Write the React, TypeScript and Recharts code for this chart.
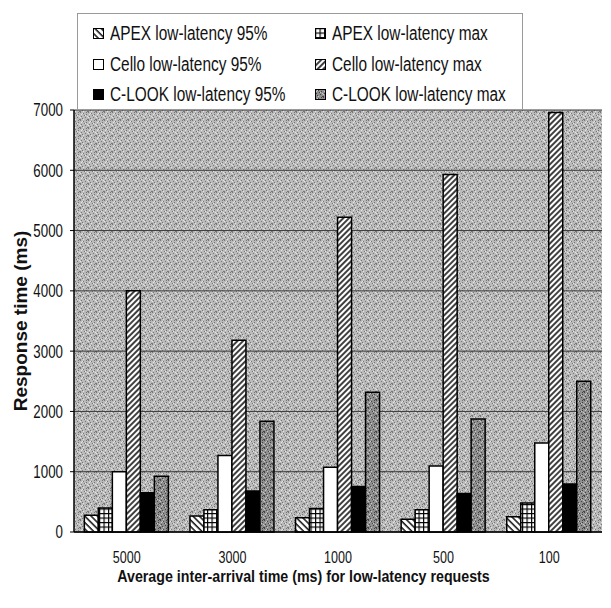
import { BarChart, Bar, XAxis, YAxis, CartesianGrid, Legend } from "recharts"

const categories = ["5000", "3000", "1000", "500", "100"]
const apex95 = [277, 265, 238, 211, 255]
const apexMax = [400, 371, 388, 371, 481]
const cello95 = [1000, 1267, 1073, 1095, 1476]
const celloMax = [4000, 3179, 5219, 5932, 6960]
const clook95 = [653, 680, 753, 637, 796]
const clookMax = [923, 1836, 2317, 1874, 2499]
const yTicks = [0, 1000, 2000, 3000, 4000, 5000, 6000, 7000]

const data = categories.map((c, i) => ({
  name: c,
  apex95: apex95[i],
  apexMax: apexMax[i],
  cello95: cello95[i],
  celloMax: celloMax[i],
  clook95: clook95[i],
  clookMax: clookMax[i],
}))

const FONT = "'Liberation Sans', Arial, sans-serif"
// the scan squeezes the type horizontally
const SQUEEZE = 0.74

// scanned paper look: fixed little dot tiles
const speckles = [
  [0, 0], [3, 1], [6, 2], [1, 4], [5, 5], [2, 6], [7, 7], [4, 3], [0, 7], [6, 0],
]
const lights = [
  [2, 1], [5, 3], [0, 5], [7, 4], [3, 7], [1, 2],
]

function Patterns() {
  return (
    <svg width={0} height={0} style={{ position: "absolute" }}>
      <defs>
        <pattern id="bgSpeckle" width={8} height={8} patternUnits="userSpaceOnUse">
          <rect width={8} height={8} fill="#bababa" />
          {speckles.map(([x, y], i) => (
            <rect key={i} x={x} y={y} width={1} height={1} fill="#777" />
          ))}
          {lights.map(([x, y], i) => (
            <rect key={"l" + i} x={x} y={y} width={1} height={1} fill="#e4e4e4" />
          ))}
        </pattern>
        <pattern id="darkSpeckle" width={8} height={8} patternUnits="userSpaceOnUse">
          <rect width={8} height={8} fill="#8e8e8e" />
          {speckles.map(([x, y], i) => (
            <rect key={i} x={x} y={y} width={1} height={1} fill="#444" />
          ))}
          {lights.map(([x, y], i) => (
            <rect key={"l" + i} x={x} y={y} width={1} height={1} fill="#c8c8c8" />
          ))}
        </pattern>
        <pattern id="backHatch" width={4.5} height={4.5} patternUnits="userSpaceOnUse" patternTransform="rotate(-45)">
          <rect width={4.5} height={4.5} fill="#fff" />
          <line x1={1} y1={0} x2={1} y2={4.5} stroke="#000" strokeWidth={1.4} />
        </pattern>
        <pattern id="fwdHatch" width={4} height={4} patternUnits="userSpaceOnUse" patternTransform="rotate(45)">
          <rect width={4} height={4} fill="#fff" />
          <line x1={1} y1={0} x2={1} y2={4} stroke="#000" strokeWidth={1.5} />
        </pattern>
        <pattern id="gridFill" width={4.5} height={4.5} patternUnits="userSpaceOnUse">
          <rect width={4.5} height={4.5} fill="#fff" />
          <line x1={0.5} y1={0} x2={0.5} y2={4.5} stroke="#000" strokeWidth={1.3} />
          <line x1={0} y1={0.5} x2={4.5} y2={0.5} stroke="#000" strokeWidth={1.3} />
        </pattern>
      </defs>
    </svg>
  )
}

const series = [
  { key: "apex95", name: "APEX low-latency 95%", fill: "url(#backHatch)" },
  { key: "apexMax", name: "APEX low-latency max", fill: "url(#gridFill)" },
  { key: "cello95", name: "Cello low-latency 95%", fill: "#fff" },
  { key: "celloMax", name: "Cello low-latency max", fill: "url(#fwdHatch)" },
  { key: "clook95", name: "C-LOOK low-latency 95%", fill: "#000" },
  { key: "clookMax", name: "C-LOOK low-latency max", fill: "url(#darkSpeckle)" },
]

const legendCols = [15, 237]
const legendRows = [19, 50, 80]

function LegendBox() {
  return (
    <div
      style={{
        position: "relative",
        boxSizing: "border-box",
        width: "100%",
        height: "100%",
        background: "#fff",
        border: "1px solid #9a9a9a",
        fontFamily: FONT,
        fontSize: 20,
        color: "#111",
      }}
    >
      {series.map((s, i) => (
        <div
          key={s.key}
          style={{
            position: "absolute",
            left: legendCols[i % 2],
            top: legendRows[Math.floor(i / 2)] - 12,
            height: 24,
            display: "flex",
            alignItems: "center",
            whiteSpace: "nowrap",
          }}
        >
          <svg width={11} height={11} style={{ marginRight: 6 }}>
            <rect x={0.5} y={0.5} width={10} height={10} fill={s.fill} stroke="#000" strokeWidth={1} />
          </svg>
          <span style={{ display: "inline-block", transform: "scaleX(0.77)", transformOrigin: "left center" }}>
            {s.name}
          </span>
        </div>
      ))}
    </div>
  )
}

function YTick(props: any) {
  const { x, y, payload } = props
  return (
    <text
      transform={`translate(${x},${y}) scale(${SQUEEZE},1)`}
      textAnchor="end"
      dy="0.355em"
      fontSize={18}
      fontFamily={FONT}
      fill="#111"
    >
      {payload.value}
    </text>
  )
}

function XTick(props: any) {
  const { x, y, payload } = props
  return (
    <text
      transform={`translate(${x},${y}) scale(${SQUEEZE},1)`}
      textAnchor="middle"
      dy="0.355em"
      fontSize={17}
      fontFamily={FONT}
      fill="#111"
    >
      {payload.value}
    </text>
  )
}

function XTitle(props: any) {
  const vb = props.viewBox || { x: 0, y: 0, width: 0 }
  const cx = vb.x + vb.width / 2 - 34.5
  const by = vb.y + 49.5
  return (
    <text
      transform={`translate(${cx},${by}) scale(0.89,1)`}
      textAnchor="middle"
      fontSize={16}
      fontWeight="bold"
      fontFamily={FONT}
      fill="#111"
    >
      Average inter-arrival time (ms) for low-latency requests
    </text>
  )
}

export default function App() {
  return (
    <div style={{ position: "absolute", left: 0, top: 0, width: 611, height: 608, background: "#fff" }}>
      <Patterns />
      <BarChart
        width={611}
        height={608}
        data={data}
        margin={{ top: 110, right: 9, bottom: 20, left: 14 }}
        barCategoryGap="9.8%"
        barGap={0}
      >
        <CartesianGrid fill="url(#bgSpeckle)" vertical={false} stroke="#3a3a3a" strokeWidth={1} />
        <XAxis
          dataKey="name"
          height={56}
          tickLine={false}
          tickSize={0}
          tickMargin={25}
          axisLine={{ stroke: "#000", strokeWidth: 1.5 }}
          tick={<XTick />}
          label={{ content: <XTitle /> }}
        />
        <YAxis
          width={60}
          domain={[0, 7000]}
          ticks={yTicks}
          interval={0}
          tickSize={4}
          tickMargin={7}
          tickLine={{ stroke: "#000" }}
          axisLine={{ stroke: "#000", strokeWidth: 1.5 }}
          tick={<YTick />}
          label={{
            value: "Response time (ms)",
            angle: -90,
            position: "insideLeft",
            offset: 6,
            style: { textAnchor: "middle", fill: "#111", fontSize: 19, fontWeight: "bold", fontFamily: FONT },
          }}
        />
        <Legend
          layout="horizontal"
          verticalAlign="middle"
          align="center"
          content={<LegendBox />}
          wrapperStyle={{ position: "absolute", left: 77, top: 13, width: 446, height: 97 }}
        />
        {series.map((s) => (
          <Bar
            key={s.key}
            dataKey={s.key}
            name={s.name}
            fill={s.fill}
            stroke="#000"
            strokeWidth={1.5}
            isAnimationActive={false}
          />
        ))}
      </BarChart>
    </div>
  )
}
